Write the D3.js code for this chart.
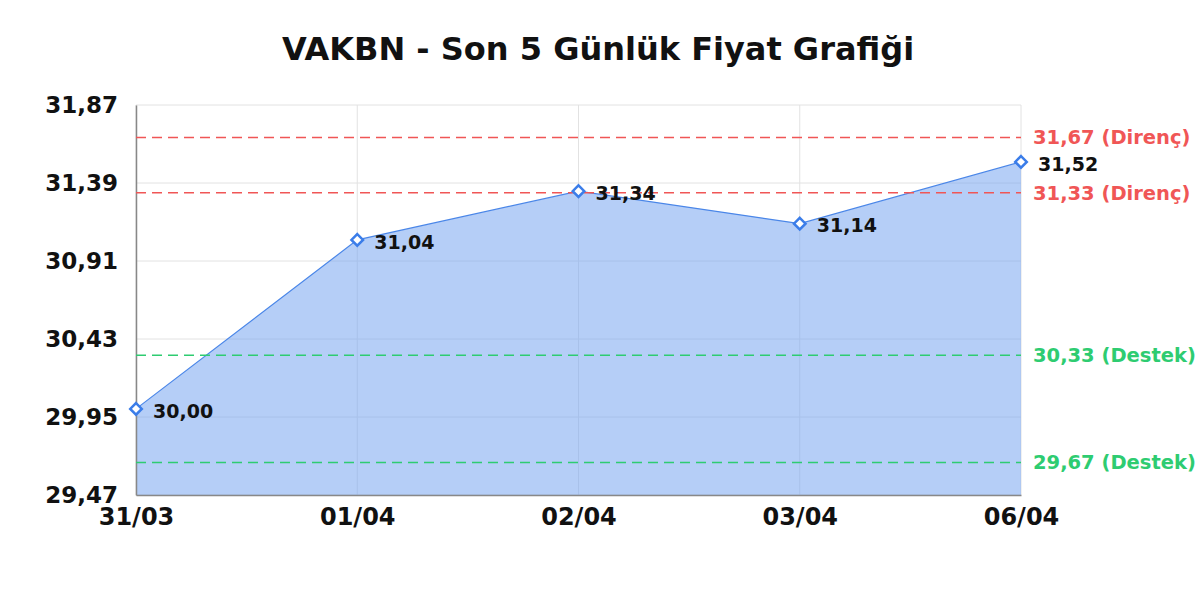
<!DOCTYPE html>
<html><head><meta charset="utf-8">
<script src="https://cdn.jsdelivr.net/npm/d3@7"></script>
<style>body{margin:0;background:#fff}svg{display:block}text{font-family:"DejaVu Sans",sans-serif}</style>
</head><body><svg id="c" width="1200" height="600"></svg>
<script>
const dates = ["31/03","01/04","02/04","03/04","06/04"];
const prices = [30.00, 31.04, 31.34, 31.14, 31.52];
const yTicks = [29.47, 29.95, 30.43, 30.91, 31.39, 31.87];
const resistance = [31.67, 31.33];
const support = [30.33, 29.67];
const title = "VAKBN - Son 5 Günlük Fiyat Grafiği";

const fmt = v => v.toFixed(2).replace(".", ",");
const svg = d3.select("#c");
const m = {l:136, r:1021, t:105, b:495};
const x = d3.scalePoint().domain(dates).range([m.l, m.r]);
const y = d3.scaleLinear().domain([29.47, 31.87]).range([m.b, m.t]);
const data = dates.map((d,i)=>({d, v:prices[i]}));

svg.append("text").attr("x",598).attr("y",60).attr("text-anchor","middle")
  .attr("font-size",32).attr("font-weight","bold").attr("fill","#111").text(title);

// grid
svg.append("g").selectAll("line").data(yTicks).join("line")
  .attr("x1",m.l).attr("x2",m.r).attr("y1",d=>y(d)).attr("y2",d=>y(d))
  .attr("stroke","#e2e2e2").attr("stroke-width",1);
svg.append("g").selectAll("line").data(dates).join("line")
  .attr("x1",d=>x(d)).attr("x2",d=>x(d)).attr("y1",m.t).attr("y2",m.b)
  .attr("stroke","#e2e2e2").attr("stroke-width",1);

// area
svg.append("path").datum(data)
  .attr("d", d3.area().x(d=>x(d.d)).y0(m.b).y1(d=>y(d.v)))
  .attr("fill","rgba(120,165,240,0.55)");
svg.append("path").datum(data)
  .attr("d", d3.line().x(d=>x(d.d)).y(d=>y(d.v)))
  .attr("fill","none").attr("stroke","#4a86e8").attr("stroke-width",1.2);

// axes
const yAxis = d3.axisLeft(y).tickValues(yTicks).tickFormat(fmt).tickSize(0).tickPadding(18);
const ga = svg.append("g").attr("transform",`translate(${m.l},0)`).call(yAxis);
ga.select(".domain").attr("stroke","#888").attr("stroke-width",1.5);
ga.selectAll("text").attr("font-size",23).attr("font-weight","bold").attr("fill","#111")
  .attr("font-family","DejaVu Sans");
const xAxis = d3.axisBottom(x).tickSize(0).tickPadding(13);
const gx = svg.append("g").attr("transform",`translate(0,${m.b})`).call(xAxis);
gx.select(".domain").attr("stroke","#888").attr("stroke-width",1.5);
gx.selectAll("text").attr("font-size",24).attr("font-weight","bold").attr("fill","#111")
  .attr("font-family","DejaVu Sans");

// reference lines
const refs = resistance.map(v=>({v, c:"#f05656", t:fmt(v)+" (Direnç)"}))
  .concat(support.map(v=>({v, c:"#2ecc71", t:fmt(v)+" (Destek)"})));
const rg = svg.append("g");
rg.selectAll("line").data(refs).join("line")
  .attr("x1",m.l).attr("x2",m.r).attr("y1",d=>y(d.v)).attr("y2",d=>y(d.v))
  .attr("stroke",d=>d.c).attr("stroke-width",1.5).attr("stroke-dasharray","10,6");
rg.selectAll("text").data(refs).join("text")
  .attr("x",1033).attr("y",d=>y(d.v)).attr("dy","0.35em")
  .attr("font-size",19.5).attr("font-weight","bold").attr("fill",d=>d.c).text(d=>d.t);

// markers
svg.append("g").selectAll("path").data(data).join("path")
  .attr("transform",d=>`translate(${x(d.d)},${y(d.v)})`)
  .attr("d", d3.symbol().type(d3.symbolDiamond2).size(85))
  .attr("fill","#fff").attr("stroke","#3b7de9").attr("stroke-width",2.5);
svg.append("g").selectAll("text").data(data).join("text")
  .attr("x",d=>x(d.d)+17).attr("y",d=>y(d.v)+2).attr("dy","0.35em")
  .attr("font-size",19).attr("font-weight","bold").attr("fill","#111").text(d=>fmt(d.v));
</script></body></html>
